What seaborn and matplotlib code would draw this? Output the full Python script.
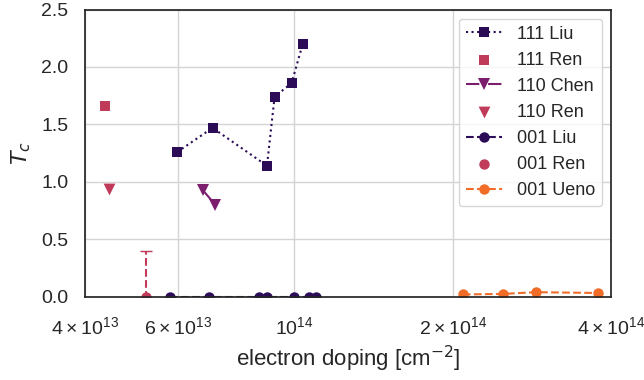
import numpy as np
import pandas as pd
import matplotlib
matplotlib.use("Agg")
import matplotlib.pyplot as plt
import seaborn as sns

# ---- data ----
liu111_x = [5.99e13, 6.99e13, 8.87e13, 9.17e13, 9.88e13, 1.037e14]
liu111_y = [1.26, 1.47, 1.14, 1.74, 1.86, 2.20]

ren111_x = [4.37e13]
ren111_y = [1.66]

chen110_x = [6.69e13, 7.08e13]
chen110_y = [0.93, 0.80]

ren110_x = [4.44e13]
ren110_y = [0.94]

liu001_x = [5.80e13, 6.88e13, 8.55e13, 8.87e13, 9.99e13, 1.066e14, 1.098e14]
liu001_y = [0.0, 0.0, 0.0, 0.0, 0.0, 0.0, 0.0]

ren001_x = [5.22e13]
ren001_y = [0.0]
ren001_err = [0.40]

ueno001_x = [2.09e14, 2.49e14, 2.88e14, 3.77e14]
ueno001_y = [0.02, 0.025, 0.04, 0.033]

xtick_vals = [4e13, 6e13, 1e14, 2e14, 4e14]
xtick_labels = [r"$\mathdefault{4\times10^{13}}$", r"$\mathdefault{6\times10^{13}}$",
                r"$\mathdefault{10^{14}}$", r"$\mathdefault{2\times10^{14}}$",
                r"$\mathdefault{4\times10^{14}}$"]
ytick_vals = [0.0, 0.5, 1.0, 1.5, 2.0, 2.5]

# ---- style ----
sns.set_theme(style="whitegrid")
plt.rcParams["font.family"] = ["Liberation Sans", "DejaVu Sans"]
plt.rcParams["axes.edgecolor"] = "#262626"
plt.rcParams["axes.linewidth"] = 1.25
plt.rcParams["grid.color"] = "#d4d4d4"

c_dark = "#2c0b57"
c_red = "#c03a5a"
c_purple = "#7b1e6e"
c_orange = "#f06c27"

fig = plt.figure(figsize=(6.44, 3.80), dpi=100)
ax = fig.add_axes([0.132, 0.219, 0.817, 0.756])

ms = 7.5
sns.lineplot(x=liu111_x, y=liu111_y, ax=ax, color=c_dark, marker="s", markersize=ms,
             markeredgewidth=0, linestyle=":", linewidth=1.5, label="111 Liu")
sns.scatterplot(x=ren111_x, y=ren111_y, ax=ax, color=c_red, marker="s", s=ms**2,
                linewidth=0, label="111 Ren")
sns.lineplot(x=chen110_x, y=chen110_y, ax=ax, color=c_purple, marker="v", markersize=ms + 1,
             markeredgewidth=0, linestyle="-.", linewidth=1.5, label="110 Chen")
sns.scatterplot(x=ren110_x, y=ren110_y, ax=ax, color=c_red, marker="v", s=(ms + 1)**2,
                linewidth=0, label="110 Ren")
sns.lineplot(x=liu001_x, y=liu001_y, ax=ax, color=c_dark, marker="o", markersize=ms,
             markeredgewidth=0, linestyle="--", linewidth=1.5, label="001 Liu")
eb = ax.errorbar(ren001_x, ren001_y, yerr=ren001_err, fmt="none", ecolor=c_red,
                 capsize=4, elinewidth=1.5)
for lc in eb[2]:
    lc.set_linestyle("--")
sns.scatterplot(x=ren001_x, y=ren001_y, ax=ax, color=c_red, marker="o", s=ms**2,
                linewidth=0, label="001 Ren")
sns.lineplot(x=ueno001_x, y=ueno001_y, ax=ax, color=c_orange, marker="o", markersize=ms,
             markeredgewidth=0, linestyle="--", linewidth=1.5, label="001 Ueno")

ax.set_xscale("log")
ax.set_xlim(4e13, 4e14)
ax.set_ylim(0, 2.5)
ax.set_xticks(xtick_vals)
ax.set_xticklabels(xtick_labels)
ax.xaxis.set_minor_locator(matplotlib.ticker.NullLocator())
ax.set_yticks(ytick_vals)
ax.set_yticklabels([f"{v:.1f}" for v in ytick_vals])
ax.tick_params(axis="y", labelsize=14, pad=6)
ax.tick_params(axis="x", labelsize=14, pad=8)

ax.set_xlabel(r"electron doping [cm$^{-2}$]", fontsize=16, labelpad=4)
ax.set_ylabel(r"$T_c$", fontsize=16, labelpad=6)
for s in ax.spines.values():
    s.set_visible(True)
    s.set_color("#262626")

ax.legend(loc="upper right", fontsize=13, handlelength=2.0)

fig.savefig("out.png", dpi=100)
